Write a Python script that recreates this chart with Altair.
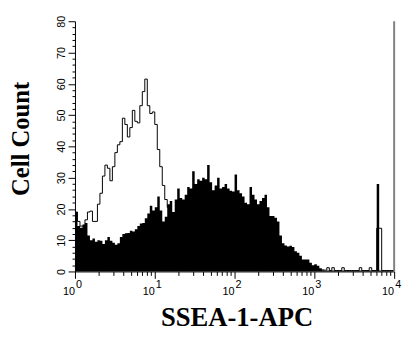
import altair as alt
import pandas as pd

# ---- data (32 channels per decade, 10^0 .. 10^4) ----
BINS_PER_DECADE = 32
stained = [
    19, 14.5, 14, 15, 15.5, 11.5, 10, 10.5, 9.5, 10,
    9.8, 8.8, 10, 11, 9.8, 9.2, 8.5, 9, 11, 12,
    12.2, 12.3, 13, 12.8, 13.5, 14.5, 15.3, 15.5, 17, 18.5,
    21, 19.5, 20.5, 24, 19.5, 16, 17.5, 21.5, 22.5, 19,
    23, 26.5, 23.5, 23, 24.5, 27, 26.5, 32, 28, 29.5,
    29, 30, 29.5, 34, 28.5, 26, 27.5, 30, 26.5, 27,
    28, 26.5, 25.8, 25.6, 31, 26, 25, 24, 22, 21.5,
    27, 24.5, 23, 21.5, 22.5, 23.5, 24.5, 20.5, 17.7, 17.7,
    17.2, 16, 11.5, 9, 8.3, 8, 8.2, 7.8, 6.5, 6,
    5, 3.8, 3.8, 3.8, 2.8, 2, 2.3, 1.8, 1, 0.4,
    0.2, 0.3, 0.3, 0.3, 0.3, 0.3, 0.3, 0.3, 0.3, 0.3,
    0.3, 0.3, 0.3, 0.3, 0.3, 0.3, 0.3, 0.3, 0.3, 0.3,
    0.3, 28, 0.3, 0.3, 0.3, 0.3, 0.3, 0.3,
]
control = [
    19, 16, 14.5, 14.5, 16.5, 19, 19.3, 16, 16, 21.5,
    25, 30.5, 34, 33, 29, 33.5, 38, 40.5, 41.5, 49,
    47, 43, 46, 51.5, 48, 47.5, 53, 57.5, 61.5, 53,
    50.5, 51, 47, 39, 33.5, 27.5, 23, 20.5, 17.5, 15,
    13, 11, 9.5, 8, 7, 6, 5, 4.5, 4, 3.5,
    3, 2.6, 2.5, 2.5, 2.4, 2.5, 2.2, 2, 2, 2.1,
    2, 1.9, 2, 2, 1.8, 1.5, 1.6, 1.5, 1.5, 1.4,
    1.5, 1.5, 1.6, 1.5, 1.4, 1.5, 1.5, 1.3, 1.5, 1.4,
    1.5, 1, 1.1, 1, 1, 0.9, 1, 1, 1.1, 1,
    1, 0.9, 1, 1, 0.8, 1, 0.5, 0.5, 0.4, 0.5,
    0.4, 1.2, 0.3, 1.2, 0.3, 0.3, 0.3, 1.2, 0.3, 0.3,
    0.3, 0.3, 0.3, 0.3, 1.2, 0.3, 0.3, 0.3, 1.2, 0.3,
    0.3, 13.8, 13.8, 0.3, 0.3, 0.3, 0.3, 0.3,
]
y_ticks = list(range(0, 81, 2))
x_ticks = [1, 2, 3, 4, 5, 6, 7, 8, 9,
           10, 20, 30, 40, 50, 60, 70, 80, 90,
           100, 200, 300, 400, 500, 600, 700, 800, 900,
           1000, 2000, 3000, 4000, 5000, 6000, 7000, 8000, 9000, 10000]
decades = [1, 10, 100, 1000, 10000]
exponents = ["0", "1", "2", "3", "4"]

edges = [10 ** (i / BINS_PER_DECADE) for i in range(len(stained) + 1)]
df = pd.DataFrame({
    "x": edges,
    "stained": stained + [stained[-1]],
    "control": control + [control[-1]],
})
lab = pd.DataFrame({"x": decades, "e": exponents})
border = pd.DataFrame({"x": [10000]})

W, H = 324, 254
xscale = alt.Scale(type="log", domain=[1, 10000], nice=False)
yscale = alt.Scale(domain=[0, 80], nice=False)

major_x = "abs(log(datum.value)/LN10 - round(log(datum.value)/LN10)) < 0.001"

xaxis = alt.Axis(
    values=x_ticks, labels=False, grid=False,
    tickSize={"condition": {"test": major_x, "value": 7}, "value": 4},
    tickColor="black", domainColor="black", tickWidth=1, domainWidth=1,
    title="SSEA-1-APC", titleFont="Liberation Serif", titleFontSize=27,
    titleFontWeight="bold", titleColor="black",
    titleX=W / 2 + 2, titleY=55, titleAlign="center", titleBaseline="alphabetic",
)
yaxis = alt.Axis(
    values=y_ticks, grid=False,
    labelExpr="datum.value % 10 === 0 ? datum.label : ''",
    labelOverlap=False, labelBound=False,
    tickSize={"condition": {"test": "datum.value % 10 === 0", "value": 7}, "value": 3},
    labelPadding=4, labelAngle=270, labelAlign="center", labelBaseline="alphabetic",
    labelFont="Liberation Sans", labelFontSize=11, labelColor="black",
    tickColor="black", domainColor="black", tickWidth=1, domainWidth=1,
    title="Cell Count", titleFont="Liberation Serif", titleFontSize=25,
    titleFontWeight="bold", titleColor="black", titleAngle=270,
    titleX=-47, titleY=H / 2 - 8, titleAlign="center", titleBaseline="alphabetic",
)

X = alt.X("x:Q", scale=xscale, axis=xaxis)

area = alt.Chart(df).mark_area(interpolate="step-after", color="black").encode(
    x=X, y=alt.Y("stained:Q", scale=yscale, axis=yaxis),
)
line = alt.Chart(df).mark_line(interpolate="step-after", color="black", strokeWidth=1).encode(
    x=X, y=alt.Y("control:Q", scale=yscale, axis=yaxis),
)
right = alt.Chart(border).mark_rule(color="#808080", strokeWidth=2).encode(
    x=X, y=alt.value(0), y2=alt.value(H),
)
ten = alt.Chart(lab).mark_text(
    text="10", align="right", baseline="alphabetic", fontSize=11,
    font="Liberation Sans", color="black",
).encode(x=X, y=alt.value(H + 24))
sup = alt.Chart(lab).mark_text(
    align="left", baseline="alphabetic", dx=1, fontSize=11,
    font="Liberation Sans", color="black",
).encode(x=X, y=alt.value(H + 17), text="e:N")

chart = alt.layer(area, line, right, ten, sup).properties(
    width=W, height=H,
    autosize=alt.AutoSizeParams(type="none"),
    padding={"left": 68, "top": 11, "right": 10, "bottom": 58},
).configure_view(stroke=None)

chart.save("out.html", embed_options={"renderer": "svg", "actions": False})
